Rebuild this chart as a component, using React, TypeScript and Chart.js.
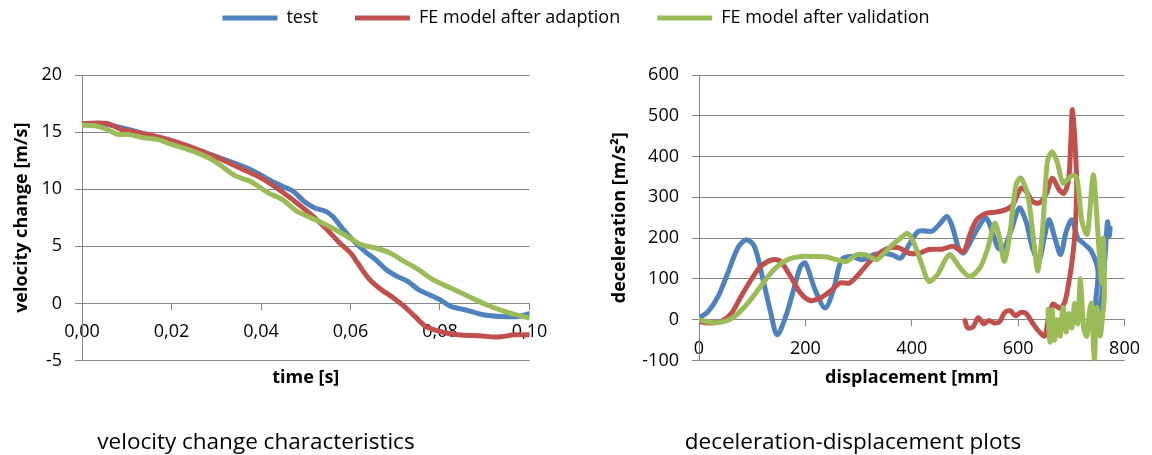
import React, { useEffect, useRef } from "react";
import { Chart, registerables } from "chart.js";

Chart.register(...registerables);

// ---------- shared series ----------
const seriesNames = ["test", "FE model after adaption", "FE model after validation"];
const seriesColors = ["#4F81BD", "#C0504D", "#9BBB59"];

// ---------- left chart: velocity change vs time ----------
const timeTest = [0, 0.0056, 0.0088, 0.0136, 0.02, 0.0264, 0.0328, 0.0376, 0.0404, 0.0424, 0.0456, 0.0472, 0.0496, 0.052, 0.0544, 0.056, 0.0584, 0.0608, 0.0632, 0.0656, 0.068, 0.0704, 0.0728, 0.0752, 0.0776, 0.08, 0.0824, 0.0856, 0.0896, 0.0936, 0.0976, 0.1];
const velocityTest = [15.67, 15.67, 15.38, 14.88, 14.12, 13.33, 12.46, 11.73, 11.14, 10.7, 10.12, 9.82, 8.95, 8.36, 8.07, 7.63, 6.46, 5.44, 4.56, 3.83, 2.95, 2.37, 1.93, 1.2, 0.76, 0.32, -0.26, -0.56, -0.99, -1.14, -1.14, -0.91];

const timeAdaption = [0, 0.0056, 0.0088, 0.0136, 0.0192, 0.0248, 0.0296, 0.036, 0.04, 0.044, 0.048, 0.0512, 0.0544, 0.0576, 0.06, 0.0616, 0.064, 0.0664, 0.0696, 0.072, 0.0744, 0.0768, 0.08, 0.084, 0.0888, 0.0928, 0.0968, 0.1];
const velocityAdaption = [15.76, 15.76, 15.23, 14.88, 14.36, 13.63, 12.89, 11.73, 10.99, 9.97, 8.8, 7.78, 6.61, 5.29, 4.42, 3.54, 2.22, 1.35, 0.47, -0.26, -1.14, -2.02, -2.46, -2.75, -2.84, -2.95, -2.75, -2.75];

const timeValidation = [0, 0.0032, 0.0056, 0.008, 0.0104, 0.0136, 0.0168, 0.02, 0.0248, 0.0296, 0.0344, 0.0376, 0.0416, 0.0448, 0.048, 0.0512, 0.0552, 0.0592, 0.0624, 0.0656, 0.0688, 0.072, 0.0752, 0.0784, 0.0824, 0.0864, 0.0904, 0.0944, 0.0984, 0.1];
const velocityValidation = [15.61, 15.53, 15.23, 14.8, 14.8, 14.5, 14.36, 13.92, 13.33, 12.46, 11.14, 10.7, 9.68, 9.09, 8.07, 7.49, 6.75, 5.88, 5.15, 4.85, 4.42, 3.68, 2.95, 2.08, 1.35, 0.61, -0.12, -0.7, -1.14, -1.27];

// ---------- right chart: deceleration vs displacement ----------
const dispTest = [0, 17, 36, 54, 73, 89, 104, 119, 135, 147, 163, 178, 191, 200, 218, 237, 253, 268, 287, 308, 327, 345, 364, 379, 395, 413, 438, 454, 466, 476, 489, 498, 520, 540, 562, 572, 587, 602, 615, 627, 639, 649, 658, 669, 680, 690, 701, 712, 725, 738, 750, 746, 744, 750, 757, 763, 768, 771, 773];
const decelTest = [4, 20, 57, 114, 176, 196, 180, 106, 16, -37, 8, 74, 131, 139, 74, 29, 74, 147, 155, 147, 159, 163, 159, 151, 184, 217, 217, 237, 253, 229, 172, 164, 215, 249, 176, 172, 220, 274, 240, 175, 143, 200, 245, 200, 160, 215, 245, 200, 185, 167, 120, 50, 10, 10, 60, 150, 240, 205, 225];

const dispAdaption = [0, 17, 42, 61, 79, 98, 116, 138, 153, 172, 191, 209, 228, 246, 265, 283, 302, 321, 339, 358, 376, 395, 413, 432, 457, 478, 497, 509, 522, 540, 559, 577, 590, 605, 615, 627, 639, 652, 664, 677, 686, 695, 699, 702, 707, 710, 706, 700, 695, 688, 680, 672, 665, 657, 650, 640, 628, 615, 605, 595, 585, 575, 565, 555, 545, 535, 525, 515, 505, 500];
const decelAdaption = [-4, -8, -4, 16, 57, 98, 131, 147, 143, 106, 65, 47, 53, 69, 90, 90, 114, 143, 163, 176, 176, 163, 163, 172, 173, 180, 167, 208, 245, 261, 264, 270, 282, 322, 315, 290, 286, 306, 347, 319, 310, 347, 440, 515, 430, 320, 200, 130, 90, 45, 28, 33, 38, 5, -40, -30, -10, 15, 18, 10, 22, 18, -5, -8, -2, -10, 5, -18, -20, -2];

const dispValidation = [0, 24, 48, 67, 92, 116, 141, 166, 191, 215, 240, 259, 277, 296, 314, 333, 348, 364, 379, 392, 404, 420, 432, 448, 463, 472, 491, 509, 528, 543, 556, 565, 574, 584, 596, 605, 618, 630, 637, 646, 655, 664, 673, 684, 695, 704, 711, 720, 730, 741, 748, 753, 757, 760, 762, 758, 754, 748, 743, 738, 734, 729, 723, 717, 712, 706, 701, 695, 690, 684, 679, 674, 668, 664, 660, 656];
const decelValidation = [0, -7, -4, 8, 41, 82, 123, 147, 155, 155, 154, 147, 143, 159, 159, 147, 163, 184, 200, 212, 188, 131, 94, 110, 147, 160, 127, 106, 127, 176, 237, 200, 143, 208, 331, 347, 306, 184, 120, 225, 388, 412, 388, 335, 347, 355, 343, 240, 210, 355, 250, 150, 90, 200, 60, 0, -40, 30, -100, 40, 20, -40, -20, 100, -10, 40, -20, 15, -30, 30, -40, 0, -50, 25, -55, 25];

// ---------- axis labels / captions ----------
const leftYTitle = "velocity change [m/s]";
const leftXTitle = "time [s]";
const rightYTitle = "deceleration [m/s²]";
const rightXTitle = "displacement [mm]";
const leftCaption = "velocity change characteristics";
const rightCaption = "deceleration-displacement plots";

const FONT = "'Open Sans', 'Noto Sans', sans-serif";
const GRID = "#868686";

Chart.defaults.font.family = FONT;
Chart.defaults.color = "#000";

function pairs(xs: number[], ys: number[]) {
  return xs.map((x, i) => ({ x, y: ys[i] }));
}

function makeDatasets(series: [number[], number[]][]) {
  // green (last) drawn on top, as in the original
  return series.map(([xs, ys], i) => ({
    label: seriesNames[i],
    data: pairs(xs, ys),
    borderColor: seriesColors[i],
    backgroundColor: seriesColors[i],
    borderWidth: 5,
    pointRadius: 0,
    pointHoverRadius: 0,
    showLine: true,
    fill: false,
    tension: 0.3,
    borderCapStyle: "round" as const,
    borderJoinStyle: "round" as const,
    order: series.length - 1 - i,
  }));
}

function spacer(position: string, size: number, extra: any = {}) {
  return {
    type: "linear",
    position,
    display: true,
    min: 0,
    max: 1,
    grid: { display: false },
    border: { display: false },
    ticks: { display: false },
    afterFit: (s: any) => {
      if (s.isHorizontal()) s.height = size;
      else s.width = size;
    },
    ...extra,
  };
}

const tickFont = { size: 18 };
const titleFont = { size: 18, weight: "bold" as const };

function buildLeft(canvas: HTMLCanvasElement) {
  return new Chart(canvas, {
    type: "scatter",
    data: {
      datasets: makeDatasets([
        [timeTest, velocityTest],
        [timeAdaption, velocityAdaption],
        [timeValidation, velocityValidation],
      ]) as any,
    },
    options: {
      responsive: false,
      animation: false,
      events: [],
      layout: { padding: { top: -28, left: 0, right: 0, bottom: 0 } },
      plugins: {
        tooltip: { enabled: false },
        legend: {
          display: true,
          position: "top",
          align: "center",
          labels: {
            usePointStyle: true,
            pointStyle: "line",
            pointStyleWidth: 55,
            padding: 37,
            font: { size: 18 },
            color: "#000",
            sort: (a: any, b: any) => a.datasetIndex - b.datasetIndex,
          },
        },
      },
      scales: {
        x: {
          type: "linear",
          position: { y: 0 },
          min: 0,
          max: 0.1,
          ticks: {
            stepSize: 0.02,
            padding: 12,
            autoSkip: false,
            maxRotation: 0,
            font: tickFont,
            color: "#000",
            callback: (v: any) => Number(v).toFixed(2).replace(".", ","),
          },
          grid: { drawOnChartArea: false, drawTicks: true, tickLength: 6, color: GRID },
          border: { color: GRID, width: 1 },
        },
        y: {
          type: "linear",
          position: "left",
          min: -5,
          max: 20,
          ticks: { stepSize: 5, padding: 13, font: tickFont, color: "#000" },
          grid: { color: GRID, tickLength: 7, lineWidth: 1 },
          border: { color: GRID, width: 1 },
          title: { display: true, text: leftYTitle, font: titleFont, color: "#000", padding: { top: 11.2, bottom: 0 } },
          afterFit: (s: any) => {
            s.width = 82;
          },
        },
        yr: spacer("right", 622.5),
        xtop: spacer("top", 38),
        xt: spacer("bottom", 94.5, {
          title: { display: true, text: leftXTitle, font: titleFont, color: "#000", padding: { top: 0, bottom: 66.2 } },
        }),
      } as any,
    },
  });
}

function buildRight(canvas: HTMLCanvasElement) {
  return new Chart(canvas, {
    type: "scatter",
    data: {
      datasets: makeDatasets([
        [dispTest, decelTest],
        [dispAdaption, decelAdaption],
        [dispValidation, decelValidation],
      ]) as any,
    },
    options: {
      responsive: false,
      animation: false,
      events: [],
      layout: { padding: { top: 75, left: 600, right: 21, bottom: 0 } },
      plugins: {
        tooltip: { enabled: false },
        legend: { display: false },
      },
      scales: {
        x: {
          type: "linear",
          position: { y: 0 },
          min: 0,
          max: 800,
          ticks: { stepSize: 200, padding: 12, autoSkip: false, maxRotation: 0, font: tickFont, color: "#000" },
          grid: { drawOnChartArea: false, drawTicks: true, tickLength: 6, color: GRID },
          border: { color: GRID, width: 1 },
        },
        y: {
          type: "linear",
          position: "left",
          min: -100,
          max: 600,
          ticks: { stepSize: 100, padding: 13, font: tickFont, color: "#000" },
          grid: { color: GRID, tickLength: 7, lineWidth: 1 },
          border: { color: GRID, width: 1 },
          title: { display: true, text: rightYTitle, font: titleFont, color: "#000", padding: { top: 8.8, bottom: 0 } },
          afterFit: (s: any) => {
            s.width = 99;
          },
        },
        xt: spacer("bottom", 94.5, {
          title: { display: true, text: rightXTitle, font: titleFont, color: "#000", padding: { top: 0, bottom: 66.2 } },
        }),
      } as any,
    },
  });
}

const canvasStyle: React.CSSProperties = { position: "absolute", left: 0, top: 0 };
const captionStyle: React.CSSProperties = {
  position: "absolute",
  top: 430,
  width: 440,
  textAlign: "center",
  fontFamily: FONT,
  fontSize: 22.5,
  lineHeight: "22px",
  color: "#000",
  whiteSpace: "nowrap",
};

export default function App() {
  const leftRef = useRef<HTMLCanvasElement>(null);
  const rightRef = useRef<HTMLCanvasElement>(null);

  useEffect(() => {
    const a = leftRef.current ? buildLeft(leftRef.current) : null;
    const b = rightRef.current ? buildRight(rightRef.current) : null;
    return () => {
      a?.destroy();
      b?.destroy();
    };
  }, []);

  return (
    <div style={{ position: "absolute", left: 0, top: 0, width: 1152, height: 455, background: "#fff", overflow: "hidden" }}>
      <canvas ref={leftRef} width={1152} height={455} style={canvasStyle} />
      <canvas ref={rightRef} width={1152} height={455} style={canvasStyle} />
      <div style={{ ...captionStyle, left: 256 - 220 }}>{leftCaption}</div>
      <div style={{ ...captionStyle, left: 853 - 220 }}>{rightCaption}</div>
    </div>
  );
}
